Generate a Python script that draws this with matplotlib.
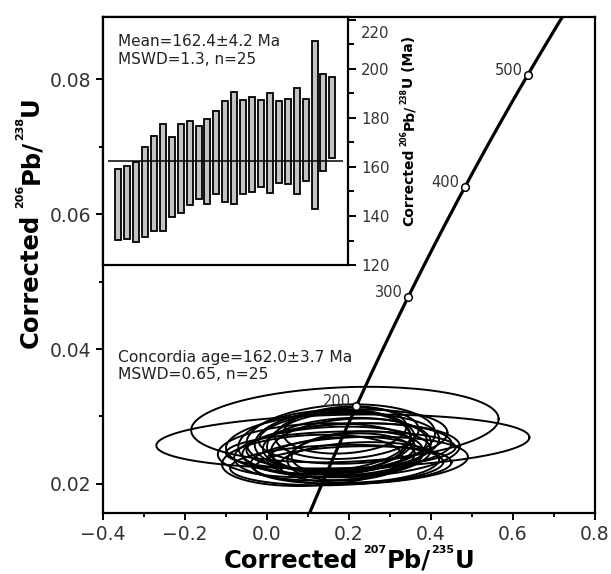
import numpy as np
import matplotlib
matplotlib.use("Agg")
import matplotlib.pyplot as plt
from matplotlib.ticker import MultipleLocator
import matplotlib.transforms as mtransforms

plt.rcParams['font.family'] = ['DejaVu Sans']

# ---------------- data ----------------
# weighted-mean inset: 206Pb/238U ages (Ma), bar bottom/top
bar_low = [130.4, 130.8, 129.5, 131.5, 133.8, 133.8, 139.6, 141.4, 144.4, 146.8,
           144.8, 148.8, 145.6, 144.8, 148.8, 149.6, 151.8, 149.5, 153.4, 152.9,
           149.1, 154.1, 142.7, 158.2, 163.7]
bar_high = [159.3, 160.3, 162.0, 168.1, 172.5, 177.5, 172.1, 177.5, 178.6, 176.9,
            179.4, 182.9, 187.0, 190.4, 187.3, 188.4, 187.3, 190.3, 187.0, 187.7,
            192.4, 187.7, 211.6, 197.8, 196.7]
mean_age = 162.4
mean_text = "Mean=162.4\u00b14.2 Ma\nMSWD=1.3, n=25"

# concordia error ellipses (207Pb/235U centre & half-width, 206Pb/238U centre & half-height)
ell_x = [0.190, 0.185, 0.120, 0.160, 0.160, 0.200, 0.160, 0.110, 0.190, 0.205,
         0.210, 0.195, 0.170, 0.225, 0.205, 0.145, 0.190, 0.180, 0.225, 0.190,
         0.205, 0.180, 0.220, 0.210, 0.175]
ell_sx = [0.375, 0.455, 0.240, 0.260, 0.240, 0.250, 0.190, 0.220, 0.190, 0.265,
          0.230, 0.175, 0.260, 0.265, 0.195, 0.215, 0.150, 0.280, 0.195, 0.200,
          0.155, 0.230, 0.160, 0.240, 0.175]
ell_y = [0.0288, 0.0263, 0.0250, 0.0260, 0.0245, 0.0255, 0.0265, 0.0235, 0.0240, 0.0250,
         0.0270, 0.0275, 0.0228, 0.0235, 0.0255, 0.0262, 0.0280, 0.0250, 0.0232, 0.0258,
         0.0240, 0.0268, 0.0245, 0.0228, 0.0262]
ell_sy = [0.0056, 0.0040, 0.0040, 0.0045, 0.0040, 0.0035, 0.0045, 0.0038, 0.0030, 0.0040,
          0.0040, 0.0038, 0.0030, 0.0035, 0.0042, 0.0048, 0.0035, 0.0028, 0.0030, 0.0040,
          0.0035, 0.0050, 0.0033, 0.0028, 0.0045]
ell_rho = 0.15
concordia_text = "Concordia age=162.0\u00b13.7 Ma\nMSWD=0.65, n=25"

# concordia curve (decay constants, per year) and age marks (Ma)
lambda238 = 1.55125e-10
lambda235 = 9.8485e-10
age_marks = [200, 300, 400, 500]

# axis-title pieces: (text, is_superscript)
xlabel_parts = [("Corrected", False), ("207", True), ("Pb/", False), ("235", True), ("U", False)]
ylabel_parts = [("Corrected", False), ("206", True), ("Pb/", False), ("238", True), ("U", False)]
inset_ylabel_parts = [("Corrected", False), ("206", True), ("Pb/", False), ("238", True),
                      ("U (Ma)", False)]

W, H = 611, 574
fig = plt.figure(figsize=(W / 100, H / 100), dpi=100)
ax = fig.add_axes([0.1686, 0.1063, 0.8052, 0.8641])

ink = 'black'
t = np.linspace(0, 2 * np.pi, 300)
for cx, sx, cy, sy in zip(ell_x, ell_sx, ell_y, ell_sy):
    xs = cx + sx * np.cos(t)
    ys = cy + sy * (ell_rho * np.cos(t) + np.sqrt(1 - ell_rho ** 2) * np.sin(t))
    ax.plot(xs, ys, color=ink, lw=1.4, zorder=2)

ages = np.linspace(50, 700, 400) * 1e6
ax.plot(np.exp(lambda235 * ages) - 1, np.exp(lambda238 * ages) - 1,
        color='black', lw=2.3, zorder=3, solid_capstyle='butt')
for a in age_marks:
    xa = np.exp(lambda235 * a * 1e6) - 1
    ya = np.exp(lambda238 * a * 1e6) - 1
    ax.plot(xa, ya, 'o', ms=5.5, mfc='white', mec='black', mew=1.1, zorder=4)
    ax.annotate(str(a), (xa, ya), xytext=(-4, 0), textcoords='offset points',
                ha='right', va='baseline', fontsize=10.5, color='#333333', zorder=5)

ax.set_xlim(-0.4, 0.8)
ax.set_ylim(0.0157, 0.0892)
ax.xaxis.set_major_locator(MultipleLocator(0.2))
ax.xaxis.set_minor_locator(MultipleLocator(0.1))
ax.yaxis.set_major_locator(MultipleLocator(0.02))
ax.yaxis.set_minor_locator(MultipleLocator(0.01))
ax.xaxis.set_major_formatter(plt.FuncFormatter(lambda v, p: f"{v:.1f}".replace('-', '\u2212')))
ax.yaxis.set_major_formatter(plt.FuncFormatter(lambda v, p: f"{v:.2f}"))
ax.tick_params(which='both', direction='out', width=1.4, colors='black',
               labelcolor='#333333', labelsize=13.5, top=False, right=False)
ax.tick_params(which='major', length=5)
ax.tick_params(which='minor', length=3)
for s in ax.spines.values():
    s.set_linewidth(1.6)

ax.text(-0.363, 0.0398, concordia_text, ha='left', va='top', fontsize=11.2,
        color='#222222', linespacing=1.1, zorder=5)

# ---------------- inset ----------------
ax2 = fig.add_axes([0.1686, 0.5383, 0.4010, 0.4321])
idx = np.arange(1, len(bar_low) + 1)
ax2.bar(idx, np.array(bar_high) - np.array(bar_low), bottom=bar_low, width=0.67,
        color='#c4c4c4', edgecolor='black', linewidth=1.3, zorder=2)
ax2.hlines(mean_age, -0.1, 26.15, color='black', lw=1.1, zorder=3)
ax2.set_xlim(-0.7, 26.75)
ax2.set_ylim(120, 221.2)
ax2.set_xticks([])
ax2.yaxis.tick_right()
ax2.yaxis.set_major_locator(MultipleLocator(20))
ax2.yaxis.set_minor_locator(MultipleLocator(10))
ax2.tick_params(which='both', direction='out', width=1.4, labelsize=10.7,
                labelcolor='#333333', left=False, right=True)
ax2.tick_params(which='major', length=6)
ax2.tick_params(which='minor', length=4.5)
for s in ax2.spines.values():
    s.set_linewidth(1.6)
ax2.text(0.061, 0.93, mean_text, transform=ax2.transAxes, ha='left', va='top',
         fontsize=11, color='#222222', linespacing=1.2)

fig.canvas.draw()
renderer = fig.canvas.get_renderer()
for lab in ax2.get_yticklabels():
    if lab.get_text() == '220':
        lab.set_transform(lab.get_transform() +
                          mtransforms.ScaledTranslation(0, -12 / 100, fig.dpi_scale_trans))


def rich_label(parts, cx, base, size, sup_size, rise, gap, rotation=0):
    """Place a title built from normal and small superscript pieces.
    cx: centre along the text direction (px), base: baseline position (px),
    both in figure pixels from bottom-left."""
    widths = []
    for s, sup in parts:
        tt = fig.text(0, 0, s, fontsize=sup_size if sup else size, fontweight='bold')
        widths.append(tt.get_window_extent(renderer).width)
        tt.remove()
    gaps = [gap if (i == 0) else 0.5 for i in range(len(parts))]
    total = sum(widths) + sum(gaps[:-1])
    pos = -total / 2
    for (s, sup), w, g in zip(parts, widths, gaps):
        r = rise if sup else 0
        if rotation == 0:
            px, py = cx + pos, base + r
        else:
            px, py = base - r, cx + pos
        fig.text(px / W, py / H, s, fontsize=sup_size if sup else size, fontweight='bold',
                 rotation=rotation, rotation_mode='anchor', ha='left', va='baseline',
                 color='black')
        pos += w + g


rich_label(xlabel_parts, 349, 6.5, 17.5, 8, 14.5, 5)
rich_label(ylabel_parts, 574 - 222, 38, 17.5, 8, 14.5, 5, rotation=90)
rich_label(inset_ylabel_parts, 574 - 131, 413, 10, 5.5, 6.5, 3, rotation=90)

fig.savefig("out.png", dpi=100)
